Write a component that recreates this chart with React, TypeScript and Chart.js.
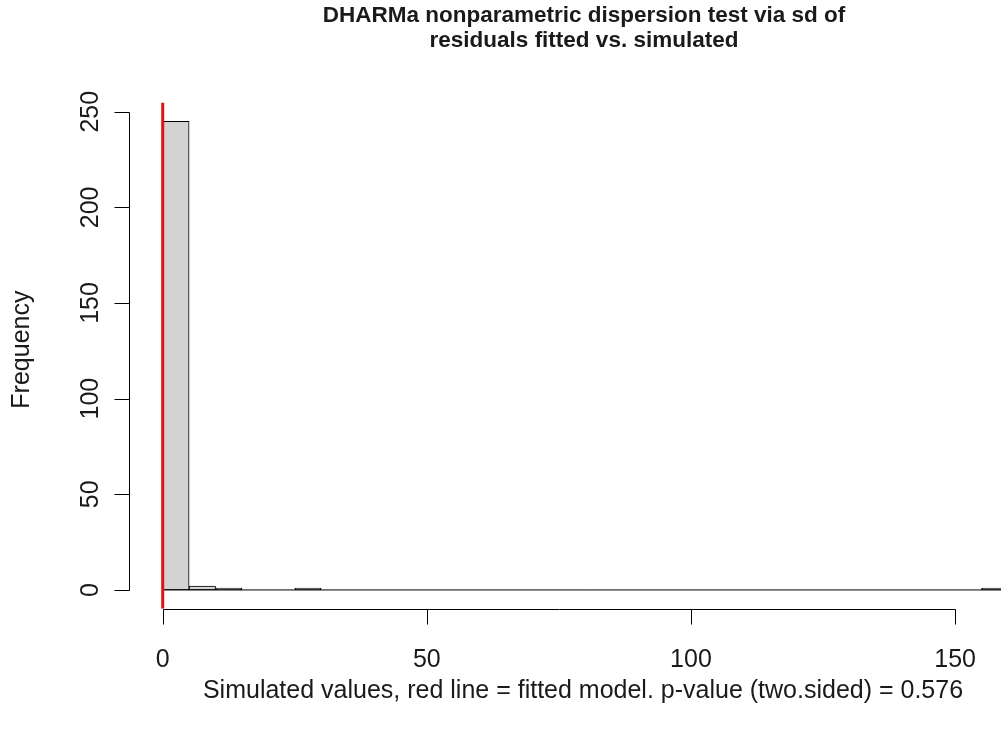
import { useEffect, useRef } from "react";
import { Chart, registerables } from "chart.js";

Chart.register(...registerables);

// Histogram of simulated dispersion statistics (bin width 5)
const binBreaks = [
  0, 5, 10, 15, 20, 25, 30, 35, 40, 45, 50, 55, 60, 65, 70, 75, 80,
  85, 90, 95, 100, 105, 110, 115, 120, 125, 130, 135, 140, 145, 150, 155, 160,
];
const binCounts = [
  245, 2, 1, 0, 0, 1, 0, 0, 0, 0, 0, 0, 0, 0, 0, 0,
  0, 0, 0, 0, 0, 0, 0, 0, 0, 0, 0, 0, 0, 0, 0, 1,
];
// Observed (fitted model) value
const observedValue = 0;

// Range of simulated + observed values, and axis ticks
const xDataRange = [0, 159.5];
const yDataRange = [0, 245];
const xTicks = [0, 50, 100, 150];
const yTicks = [0, 50, 100, 150, 200, 250];

const titleLines = [
  "DHARMa nonparametric dispersion test via sd of",
  "residuals fitted vs. simulated",
];
const xTitle = "Simulated values, red line = fitted model. p-value (two.sided) = 0.576";
const yTitle = "Frequency";

// R-style 4% range extension
const extend = (r: number[]) => {
  const d = (r[1] - r[0]) * 0.04;
  return [r[0] - d, r[1] + d];
};
const xLim = extend(xDataRange);
const yLim = extend(yDataRange);

const FONT = "'Liberation Sans', Arial, Helvetica, sans-serif";
const TEXT = "#1a1a1a";

const rAxesPlugin = {
  id: "rAxes",
  afterDraw(chart: any) {
    const { ctx, chartArea } = chart;
    const x = chart.scales.x;
    const y = chart.scales.y;
    const snap = (v: number) => Math.round(v) + 0.5;
    const tickLen = 15;

    ctx.save();
    ctx.strokeStyle = "#000";
    ctx.lineWidth = 1;

    // y axis
    const ax = snap(chartArea.left);
    ctx.beginPath();
    ctx.moveTo(ax, snap(y.getPixelForValue(yTicks[0])));
    ctx.lineTo(ax, snap(y.getPixelForValue(yTicks[yTicks.length - 1])));
    yTicks.forEach((t) => {
      const py = snap(y.getPixelForValue(t));
      ctx.moveTo(ax, py);
      ctx.lineTo(ax - tickLen, py);
    });
    // x axis
    const ay = snap(chartArea.bottom);
    ctx.moveTo(snap(x.getPixelForValue(xTicks[0])), ay);
    ctx.lineTo(snap(x.getPixelForValue(xTicks[xTicks.length - 1])), ay);
    xTicks.forEach((t) => {
      const px = snap(x.getPixelForValue(t));
      ctx.moveTo(px, ay);
      ctx.lineTo(px, ay + tickLen);
    });
    ctx.stroke();

    ctx.fillStyle = TEXT;
    ctx.font = `25px ${FONT}`;
    ctx.textBaseline = "alphabetic";

    // x tick labels
    ctx.textAlign = "center";
    xTicks.forEach((t) => {
      ctx.fillText(String(t), x.getPixelForValue(t), chartArea.bottom + 58);
    });

    // y tick labels (parallel to axis)
    yTicks.forEach((t) => {
      ctx.save();
      ctx.translate(chartArea.left - 31.5, y.getPixelForValue(t));
      ctx.rotate(-Math.PI / 2);
      ctx.fillText(String(t), 0, 0);
      ctx.restore();
    });

    // axis titles
    const cx = (chartArea.left + chartArea.right) / 2;
    const cy = (chartArea.top + chartArea.bottom) / 2;
    ctx.fillText(xTitle, cx - 1, chartArea.bottom + 89);
    ctx.save();
    ctx.translate(29, cy - 6);
    ctx.rotate(-Math.PI / 2);
    ctx.fillText(yTitle, 0, 0);
    ctx.restore();

    // main title
    ctx.font = `bold 22.5px ${FONT}`;
    titleLines.forEach((line, i) => {
      ctx.fillText(line, cx, 22 + i * 25);
    });

    ctx.restore();
  },
};

export default function App() {
  const canvasRef = useRef<HTMLCanvasElement | null>(null);

  useEffect(() => {
    const canvas = canvasRef.current;
    if (!canvas) return;

    const bars = binCounts.map((c, i) => ({
      x: (binBreaks[i] + binBreaks[i + 1]) / 2,
      y: c,
    }));

    const chart = new Chart(canvas, {
      type: "bar",
      data: {
        datasets: [
          {
            type: "line",
            label: "observed",
            data: [
              { x: observedValue, y: yLim[0] },
              { x: observedValue, y: yLim[1] },
            ],
            borderColor: "#DC1414",
            borderWidth: 3,
            pointRadius: 0,
            order: 0,
          } as any,
          {
            type: "line",
            label: "baseline",
            data: [
              { x: binBreaks[0], y: 0 },
              { x: binBreaks[binBreaks.length - 1], y: 0 },
            ],
            borderColor: "#000",
            borderWidth: 1,
            pointRadius: 0,
            order: 1,
          } as any,
          {
            type: "bar",
            label: "simulated",
            data: bars,
            backgroundColor: "#D3D3D3",
            borderColor: "#000",
            borderWidth: 1,
            borderSkipped: false,
            barPercentage: 1,
            categoryPercentage: 1,
            order: 2,
          } as any,
        ],
      },
      options: {
        responsive: false,
        animation: false,
        events: [],
        layout: { padding: { left: 129, top: 102.5, right: 11, bottom: 129.3 } },
        scales: {
          x: { type: "linear", min: xLim[0], max: xLim[1], display: false, offset: false },
          y: { type: "linear", min: yLim[0], max: yLim[1], display: false },
        },
        plugins: {
          legend: { display: false },
          tooltip: { enabled: false },
          title: { display: false },
        },
      },
      plugins: [rAxesPlugin],
    });

    return () => chart.destroy();
  }, []);

  return (
    <div
      style={{
        position: "absolute",
        left: 0,
        top: 0,
        width: 1001,
        height: 738,
        overflow: "hidden",
        background: "#fff",
      }}
    >
      <canvas
        ref={canvasRef}
        width={1050}
        height={738}
        style={{ width: 1050, height: 738, display: "block" }}
      />
    </div>
  );
}
